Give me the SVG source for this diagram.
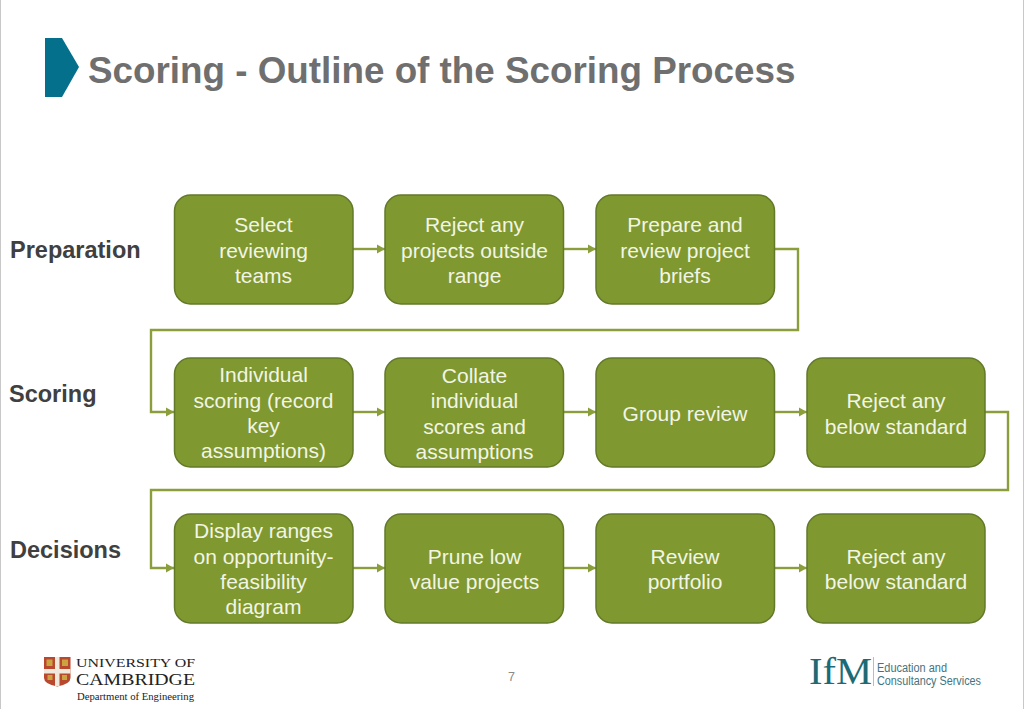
<svg xmlns="http://www.w3.org/2000/svg" width="1024" height="709" viewBox="0 0 1024 709">
<defs>
<marker id="arrow" markerUnits="userSpaceOnUse" markerWidth="9" markerHeight="10" refX="8" refY="5" orient="auto"><path d="M0 0.500L8 5L0 9.500Z" fill="#8a9f3c"/></marker>
</defs>
<style>
.box{fill:#7f982f;stroke:#62792a;stroke-width:1.500}
.bt{font-family:"Liberation Sans",Arial,sans-serif;font-size:21px;fill:#f2f5e6;text-anchor:middle}
.lab{font-family:"Liberation Sans",Arial,sans-serif;font-size:23.500px;font-weight:bold;fill:#404040}
.con{fill:none;stroke:#8a9f3c;stroke-width:2.400;marker-end:url(#arrow)}
.ser{font-family:"Liberation Serif","Times New Roman",serif;fill:#222}
.ifm{font-family:"Liberation Sans",Arial,sans-serif;font-size:12px;fill:#3f7480}
</style>
<rect width="1024" height="709" fill="#fff"/>
<path d="M0.500 0V709M1023.500 0V709" stroke="#c8c8c8" stroke-width="1" fill="none"/>
<g id="title">
<path d="M45 38H62L79 67L62 97H45Z" fill="#04708c"/>
<text x="88" y="83" font-family="'Liberation Sans',Arial,sans-serif" font-size="36.800px" font-weight="bold" fill="#6f6f6f">Scoring - Outline of the Scoring Process</text>
</g>
<g id="connectors">
<path class="con" d="M353 249H385"/>
<path class="con" d="M564 249H596"/>
<path class="con" d="M775 249H798V330H151V412H174"/>
<path class="con" d="M353 412H385"/>
<path class="con" d="M564 412H596"/>
<path class="con" d="M775 412H807"/>
<path class="con" d="M985 412H1008V490H151V568H174"/>
<path class="con" d="M353 568H385"/>
<path class="con" d="M564 568H596"/>
<path class="con" d="M775 568H807"/>
</g>
<g id="label-preparation"><text class="lab" x="10" y="258">Preparation</text></g>
<g id="label-scoring"><text class="lab" x="9" y="402">Scoring</text></g>
<g id="label-decisions"><text class="lab" x="10" y="558">Decisions</text></g>
<g id="n1"><rect class="box" x="174.500" y="195" width="178.500" height="109" rx="16"/><text class="bt" x="263.500" y="232">Select</text><text class="bt" x="263.500" y="257.500">reviewing</text><text class="bt" x="263.500" y="283">teams</text></g>
<g id="n2"><rect class="box" x="385" y="195" width="178.500" height="109" rx="16"/><text class="bt" x="474.500" y="232">Reject any</text><text class="bt" x="474.500" y="257.500">projects outside</text><text class="bt" x="474.500" y="283">range</text></g>
<g id="n3"><rect class="box" x="596" y="195" width="178.500" height="109" rx="16"/><text class="bt" x="685" y="232">Prepare and</text><text class="bt" x="685" y="257.500">review project</text><text class="bt" x="685" y="283">briefs</text></g>
<g id="n4"><rect class="box" x="174.500" y="358" width="178.500" height="109" rx="16"/><text class="bt" x="263.500" y="382">Individual</text><text class="bt" x="263.500" y="407.500">scoring (record</text><text class="bt" x="263.500" y="433">key</text><text class="bt" x="263.500" y="458">assumptions)</text></g>
<g id="n5"><rect class="box" x="385" y="358" width="178.500" height="109" rx="16"/><text class="bt" x="474.500" y="382.500">Collate</text><text class="bt" x="474.500" y="408">individual</text><text class="bt" x="474.500" y="433.500">scores and</text><text class="bt" x="474.500" y="458.500">assumptions</text></g>
<g id="n6"><rect class="box" x="596" y="358" width="178.500" height="109" rx="16"/><text class="bt" x="685" y="421">Group review</text></g>
<g id="n7"><rect class="box" x="807" y="358" width="178" height="109" rx="16"/><text class="bt" x="896" y="408">Reject any</text><text class="bt" x="896" y="433.500">below standard</text></g>
<g id="n8"><rect class="box" x="174.500" y="514" width="178.500" height="109" rx="16"/><text class="bt" x="263.500" y="538">Display ranges</text><text class="bt" x="263.500" y="563.500">on opportunity-</text><text class="bt" x="263.500" y="589">feasibility</text><text class="bt" x="263.500" y="614">diagram</text></g>
<g id="n9"><rect class="box" x="385" y="514" width="178.500" height="109" rx="16"/><text class="bt" x="474.500" y="564">Prune low</text><text class="bt" x="474.500" y="589">value projects</text></g>
<g id="n10"><rect class="box" x="596" y="514" width="178.500" height="109" rx="16"/><text class="bt" x="685" y="564">Review</text><text class="bt" x="685" y="589">portfolio</text></g>
<g id="n11"><rect class="box" x="807" y="514" width="178" height="109" rx="16"/><text class="bt" x="896" y="564">Reject any</text><text class="bt" x="896" y="589">below standard</text></g>
<text x="511.500" y="681" font-family="'Liberation Sans',Arial,sans-serif" font-size="12.500px" fill="#8a8a8a" text-anchor="middle">7</text>
<g id="cambridge-logo">
<path d="M44 657H70.500V678Q70.500 684 57.300 686.500Q44 684 44 678Z" fill="#b8492f"/>
<path d="M55 657H59.500V686H55ZM44 669H70.500V673.500H44Z" fill="#efe8dc"/>
<path d="M46.500 659.500h6v6.500h-6zM62 659.500h6v6.500h-6zM47.500 675h5v5h-5zM62 675h5v5h-5z" fill="#c9a441"/>
<text class="ser" x="76" y="667" font-size="13px" textLength="119" lengthAdjust="spacingAndGlyphs">UNIVERSITY OF</text>
<text class="ser" x="76" y="685" font-size="17px" textLength="119" lengthAdjust="spacingAndGlyphs">CAMBRIDGE</text>
<text class="ser" x="77" y="700" font-size="10.500px" fill="#444" textLength="117" lengthAdjust="spacingAndGlyphs">Department of Engineering</text>
</g>
<g id="ifm-logo">
<text x="809" y="684" font-family="'Liberation Serif','Times New Roman',serif" font-size="38px" fill="#1d6a77" textLength="63" lengthAdjust="spacingAndGlyphs">IfM</text>
<path d="M873.500 657V686" stroke="#a9c4c9" stroke-width="1"/>
<text class="ifm" x="877" y="672" textLength="70" lengthAdjust="spacingAndGlyphs">Education and</text>
<text class="ifm" x="877" y="685" textLength="104" lengthAdjust="spacingAndGlyphs">Consultancy Services</text>
</g>
</svg>
